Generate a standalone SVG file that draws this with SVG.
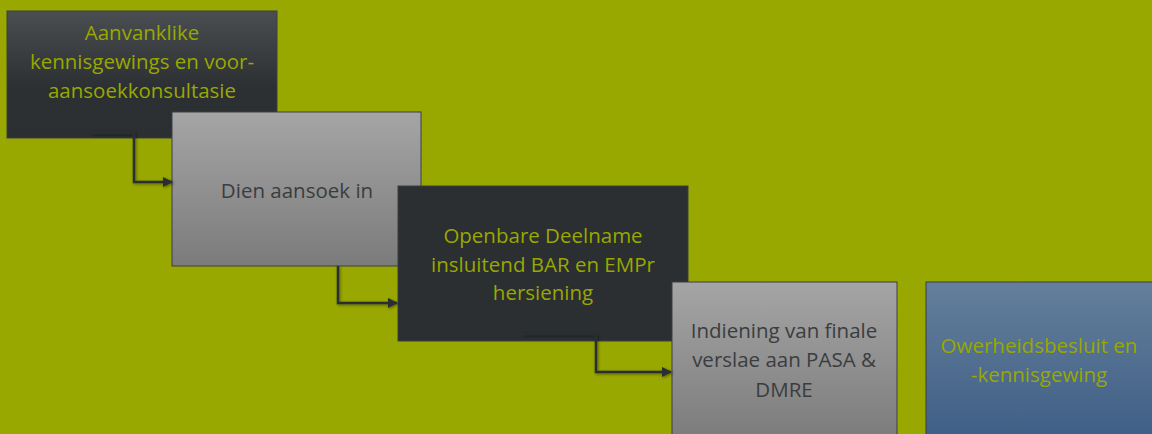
<svg xmlns="http://www.w3.org/2000/svg" width="1152" height="434" viewBox="0 0 1152 434">
<defs>
<linearGradient id="gDark" x1="0" y1="0" x2="0" y2="1"><stop offset="0" stop-color="#4b4e51"/><stop offset="0.6" stop-color="#2c3033"/><stop offset="1" stop-color="#2b2f31"/></linearGradient>
<linearGradient id="gGray" x1="0" y1="0" x2="0" y2="1"><stop offset="0" stop-color="#a5a5a5"/><stop offset="1" stop-color="#7b7b7b"/></linearGradient>
<linearGradient id="gBlue" x1="0" y1="0" x2="0" y2="1"><stop offset="0" stop-color="#647f9b"/><stop offset="1" stop-color="#3e5e85"/></linearGradient>
<marker id="arr" viewBox="0 0 10 10" refX="9" refY="5" markerWidth="4" markerHeight="4" orient="auto" markerUnits="strokeWidth"><path d="M0,0 L10,5 L0,10 z" fill="#2b2f31"/></marker>
<filter id="sh" x="-20%" y="-20%" width="140%" height="140%"><feDropShadow dx="1" dy="1" stdDeviation="1.5" flood-color="#000" flood-opacity="0.45"/></filter>
</defs>
<style>
.box{stroke:#3c3f42;stroke-width:1}
.t{font-family:"Open Sans","Liberation Sans",sans-serif;font-size:20.5px;text-anchor:middle}
.g{fill:#99a800}
.d{fill:#3a3d3f}
.c{fill:none;stroke:#2b2f31;stroke-width:2.5;marker-end:url(#arr);filter:url(#sh)}
</style>
<rect width="1152" height="434" fill="#99a800"/>
<g id="n1"><rect class="box" x="7" y="11" width="270" height="127" fill="url(#gDark)"/>
<text class="t g" x="142" y="40">Aanvanklike</text><text class="t g" x="142" y="69">kennisgewings en voor-</text><text class="t g" x="142" y="98">aansoekkonsultasie</text></g>
<g id="n2"><rect class="box" x="172" y="112" width="249" height="154" fill="url(#gGray)"/>
<text class="t d" x="297" y="198">Dien aansoek in</text></g>
<g id="n3"><rect class="box" x="398" y="186" width="290" height="155" fill="#2b2f31"/>
<text class="t g" x="543" y="243">Openbare Deelname</text><text class="t g" x="543" y="272">insluitend BAR en EMPr</text><text class="t g" x="543" y="300">hersiening</text></g>
<g id="n4"><rect class="box" x="672" y="282" width="225" height="160" fill="url(#gGray)"/>
<text class="t d" x="784" y="338">Indiening van finale</text><text class="t d" x="784" y="367">verslae aan PASA &amp;</text><text class="t d" x="784" y="397">DMRE</text></g>
<g id="n5"><rect class="box" x="926" y="282" width="230" height="160" fill="url(#gBlue)"/>
<text class="t g" x="1039" y="353">Owerheidsbesluit en</text><text class="t g" x="1039" y="382">-kennisgewing</text></g>
<g id="connectors">
<path class="c" d="M91,133 H134 V182 H172"/>
<path class="c" d="M338,266 V303 H397"/>
<path class="c" d="M522,334 H596 V372 H671"/>
<path class="c" d="M897,371 H925"/>
</g>
</svg>
